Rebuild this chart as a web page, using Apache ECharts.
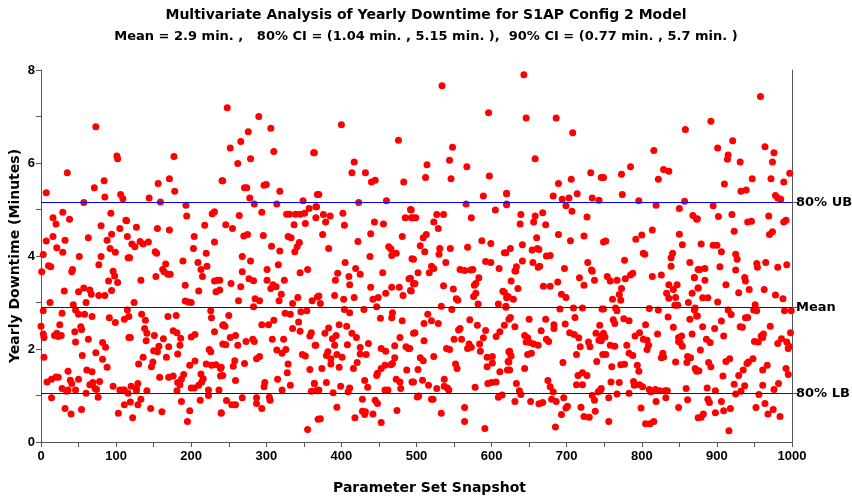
<!DOCTYPE html>
<html>
<head>
<meta charset="utf-8">
<script src="https://cdn.jsdelivr.net/npm/echarts@6/dist/echarts.min.js"></script>
<style>html,body{margin:0;padding:0;background:#fff}#c{width:852px;height:502px}</style>
</head>
<body>
<div id="c"></div>
<script>
const titleText = 'Multivariate Analysis of Yearly Downtime for S1AP Config 2 Model';
const subtitleText = 'Mean = 2.9 min. ,   80% CI = (1.04 min. , 5.15 min. ),  90% CI = (0.77 min. , 5.7 min. )';
const xAxisName = 'Parameter Set Snapshot';
const yAxisName = 'Yearly Downtime (Minutes)';
const refValues = [5.15, 2.9, 1.04];
const refLabels = ['80% UB', 'Mean', '80% LB'];

const seg1 = [[73,6.78],[35,5.79],[7,5.36],[101,6.15],[102,6.09],[84,5.62],[71,5.47],[85,5.27],[57,5.15],[106,5.32],[109,5.23],[29,4.94],[16,4.82],[20,4.69],[38,4.79],[93,4.92],[80,4.65],[105,4.59],[113,4.77],[7,4.32],[16,4.42],[32,4.34],[63,4.39],[88,4.34],[94,4.47],[21,4.18],[29,4.08],[92,4.16],[99,4.08],[80,3.99],[116,3.96],[3,4.03],[51,3.99],[10,3.79],[13,3.77],[1,3.66],[42,3.71],[41,3.66],[77,3.81],[96,3.67],[98,3.57],[90,3.46],[102,3.43],[31,3.25],[50,3.23],[57,3.31],[65,3.27],[67,3.18],[77,3.15],[85,3.15],[94,3.26],[12,3.0],[60,3.0],[43,2.95],[3,2.82],[46,2.84],[50,2.75],[58,2.75],[68,2.70],[28,2.77],[91,2.67],[99,2.57],[111,2.64],[0,2.49],[25,2.52],[53,2.48],[54,2.42],[3,2.32],[4,2.25],[18,2.29],[23,2.27],[27,2.29],[21,2.34],[45,2.37],[46,2.15],[63,2.21],[82,2.14],[86,2.04],[117,2.25],[4,1.82],[55,1.86],[73,1.92],[82,1.78],[88,1.61],[8,1.29],[14,1.35],[20,1.4],[23,1.39],[36,1.52],[61,1.55],[68,1.51],[39,1.33],[41,1.26],[50,1.35],[65,1.23],[69,1.28],[72,1.15],[78,1.3],[96,1.2],[28,1.15],[34,1.09],[36,1.12],[46,1.12],[60,1.05],[74,1.13],[76,0.96],[105,1.12],[109,1.12],[14,0.95],[32,0.72],[40,0.6],[54,0.7],[103,0.62],[111,0.8]];
const seg2 = [[177,6.14],[171,5.66],[156,5.56],[178,5.39],[241,5.62],[144,5.25],[159,5.16],[193,5.09],[194,4.86],[228,4.91],[231,4.95],[218,4.66],[114,4.76],[127,4.62],[155,4.59],[171,4.56],[115,4.42],[121,4.26],[125,4.2],[132,4.31],[136,4.26],[143,4.3],[204,4.42],[231,4.3],[118,3.96],[152,4.09],[154,4.06],[203,4.16],[220,4.06],[189,3.89],[209,3.86],[221,3.78],[213,3.71],[166,3.83],[162,3.71],[164,3.66],[169,3.61],[172,3.61],[153,3.56],[215,3.56],[133,3.48],[231,3.46],[235,3.48],[192,3.37],[233,3.23],[210,3.25],[124,3.0],[192,3.03],[196,3.01],[200,3.0],[115,2.84],[117,2.7],[226,2.82],[227,2.67],[134,2.75],[139,2.62],[169,2.7],[180,2.72],[242,2.51],[138,2.44],[141,2.34],[119,2.25],[140,2.18],[151,2.29],[163,2.22],[176,2.39],[181,2.35],[186,2.23],[185,2.08],[200,2.26],[205,2.31],[231,2.37],[242,2.11],[157,2.06],[170,2.05],[150,1.96],[155,1.94],[182,1.89],[224,1.99],[226,1.94],[130,1.68],[136,1.82],[149,1.72],[147,1.62],[167,1.82],[198,1.65],[205,1.74],[220,1.68],[227,1.65],[233,1.66],[239,1.58],[239,1.42],[158,1.39],[170,1.39],[176,1.42],[190,1.45],[187,1.35],[182,1.28],[185,1.23],[213,1.46],[216,1.36],[214,1.29],[210,1.22],[204,1.16],[200,1.16],[120,1.2],[127,1.15],[129,1.26],[127,1.1],[141,1.1],[111,1.12],[116,1.05],[181,1.1],[223,1.12],[223,1.0],[237,1.12],[119,0.86],[133,0.92],[129,0.8],[146,0.72],[161,0.65],[187,0.87],[198,0.67],[195,0.44],[212,0.9],[122,0.52],[240,0.63]];
const seg3 = [[248,7.19],[290,7.0],[306,6.75],[276,6.67],[266,6.46],[252,6.32],[310,6.25],[363,6.22],[279,6.09],[262,5.99],[242,5.62],[271,5.47],[274,5.47],[297,5.52],[300,5.54],[318,5.39],[278,5.25],[284,5.12],[314,5.12],[349,5.19],[368,5.32],[294,4.94],[264,4.87],[327,4.9],[331,4.9],[339,4.9],[345,4.9],[351,4.92],[357,5.02],[367,5.06],[352,4.7],[337,4.67],[246,4.67],[255,4.59],[270,4.43],[275,4.46],[296,4.44],[329,4.42],[333,4.39],[344,4.29],[341,4.2],[338,4.09],[307,4.21],[318,4.11],[268,3.99],[279,3.89],[316,3.81],[301,3.71],[268,3.66],[345,3.64],[355,3.71],[277,3.51],[283,3.47],[301,3.48],[309,3.38],[313,3.34],[306,3.3],[324,3.48],[238,3.48],[253,3.41],[266,3.34],[320,3.18],[263,3.04],[285,3.08],[291,3.04],[283,2.91],[317,3.04],[335,2.98],[342,3.11],[361,3.04],[368,3.12],[238,3.27],[325,2.77],[332,2.75],[346,2.8],[354,2.82],[250,2.72],[243,2.52],[245,2.49],[294,2.52],[303,2.52],[310,2.62],[343,2.58],[335,2.44],[345,2.38],[358,2.28],[360,2.35],[252,2.25],[259,2.29],[246,2.09],[262,2.08],[273,2.16],[282,2.21],[284,2.16],[308,2.21],[323,2.21],[365,2.08],[314,1.98],[321,1.91],[326,1.99],[348,1.88],[352,1.85],[287,1.79],[291,1.84],[258,1.75],[256,1.63],[271,1.69],[329,1.68],[328,1.49],[358,1.56],[240,1.61],[242,1.43],[259,1.32],[315,1.35],[298,1.28],[297,1.19],[332,1.22],[364,1.26],[321,1.12],[360,1.09],[367,1.11],[247,0.89],[254,0.8],[259,0.8],[268,0.95],[287,0.95],[287,0.83],[304,0.96],[305,0.9],[294,0.72],[240,0.62],[355,0.27],[369,0.49]];
const seg4 = [[400,6.82],[476,6.49],[417,6.02],[414,5.79],[432,5.79],[440,5.59],[445,5.63],[483,5.59],[364,6.22],[370,5.32],[423,5.15],[460,5.19],[492,5.0],[485,4.82],[493,4.82],[366,5.06],[366,4.82],[376,4.89],[385,4.86],[402,4.92],[379,4.73],[404,4.66],[444,4.73],[456,4.69],[375,4.46],[439,4.48],[481,4.42],[422,4.31],[383,4.16],[463,4.2],[466,4.15],[473,4.06],[467,4.01],[438,3.99],[494,3.94],[405,3.86],[419,3.73],[425,3.61],[395,3.63],[392,3.48],[410,3.56],[411,3.38],[455,3.64],[439,3.33],[490,3.51],[370,3.14],[372,2.98],[391,3.15],[403,3.07],[417,3.11],[442,3.07],[449,3.11],[459,3.2],[467,3.33],[477,3.33],[482,3.15],[492,3.26],[496,3.4],[404,2.85],[411,2.78],[430,2.85],[447,2.91],[468,2.78],[467,2.67],[481,2.61],[452,2.66],[397,2.52],[407,2.49],[383,2.45],[378,2.34],[393,2.29],[388,2.22],[391,2.08],[414,2.34],[420,2.25],[366,2.08],[408,2.09],[436,2.12],[425,2.03],[478,2.25],[486,2.05],[489,2.01],[496,2.34],[471,2.07],[453,2.01],[459,1.95],[382,1.94],[380,1.86],[386,1.79],[394,1.88],[401,1.82],[425,1.89],[433,1.88],[471,1.81],[386,1.68],[397,1.61],[421,1.71],[416,1.58],[453,1.58],[458,1.65],[466,1.66],[468,1.69],[448,1.48],[447,1.43],[374,1.58],[487,1.55],[364,1.26],[370,1.12],[367,1.1],[380,1.28],[399,1.2],[411,1.16],[409,1.08],[431,1.32],[435,1.18],[473,1.35],[478,1.29],[479,1.15],[458,1.12],[462,1.12],[494,1.29],[389,1.06],[428,0.92],[445,0.9],[448,0.83],[394,0.75],[428,0.66],[431,0.59],[432,0.65],[442,0.6],[418,0.52],[372,0.5],[453,0.42],[474,0.68]];
const seg5 = [[534,7.66],[596,7.08],[548,6.34],[544,6.06],[514,5.96],[567,5.92],[512,5.69],[546,5.66],[597,5.72],[589,5.29],[620,5.34],[620,5.1],[566,5.12],[605,4.99],[493,4.99],[496,4.82],[499,4.82],[527,4.89],[536,4.89],[523,4.73],[529,4.59],[573,4.82],[509,4.39],[513,4.46],[505,4.22],[511,4.09],[531,4.16],[530,4.04],[545,4.16],[587,4.33],[599,4.27],[568,4.19],[617,4.07],[496,3.93],[539,3.86],[592,3.88],[599,3.86],[520,3.78],[523,3.73],[517,3.64],[502,3.64],[610,3.73],[558,3.71],[564,3.69],[572,3.7],[575,3.71],[583,3.53],[579,3.41],[577,3.37],[492,3.52],[498,3.41],[493,3.25],[536,3.36],[549,3.29],[615,3.24],[579,3.2],[576,3.13],[582,2.97],[553,3.08],[555,3.05],[620,3.1],[533,2.92],[547,2.85],[609,2.97],[619,2.92],[515,2.75],[520,2.61],[529,2.55],[510,2.55],[571,2.63],[581,2.51],[623,2.64],[498,2.35],[558,2.44],[556,2.41],[592,2.4],[611,2.37],[606,2.27],[510,2.18],[550,2.21],[560,2.21],[570,2.11],[573,2.04],[568,2.01],[584,2.11],[585,1.95],[589,2.24],[540,2.01],[544,1.99],[623,1.94],[491,2.01],[505,1.81],[509,1.75],[523,1.84],[594,1.82],[601,1.84],[594,1.62],[601,1.7],[622,1.73],[621,1.55],[552,1.68],[554,1.58],[502,1.56],[611,1.51],[496,1.29],[508,1.33],[516,1.22],[527,1.15],[537,1.35],[537,1.2],[541,1.16],[543,1.12],[578,1.18],[595,1.26],[600,1.28],[606,1.29],[501,0.97],[503,0.99],[520,0.92],[522,0.92],[609,0.96],[614,1.01],[564,0.74],[533,0.62],[564,0.44],[591,0.29]];
const seg6 = [[643,7.9],[646,6.97],[686,6.97],[708,6.65],[658,6.09],[732,5.79],[746,5.69],[689,5.56],[706,5.65],[620,5.35],[620,5.12],[682,5.29],[694,5.22],[703,5.25],[714,5.34],[734,5.25],[743,5.2],[699,5.08],[707,4.96],[639,4.89],[638,4.69],[658,4.86],[656,4.73],[668,4.93],[672,4.67],[727,4.84],[689,4.46],[723,4.43],[660,4.39],[705,4.33],[749,4.3],[641,4.24],[625,4.16],[619,4.07],[654,4.13],[661,4.16],[663,4.14],[673,4.0],[678,4.01],[641,3.89],[633,3.77],[632,3.68],[631,3.68],[655,3.86],[662,3.76],[664,3.78],[697,3.73],[728,3.86],[734,3.67],[737,3.48],[733,3.7],[717,3.53],[626,3.46],[688,3.44],[669,3.35],[678,3.35],[635,3.3],[723,3.37],[617,3.22],[622,3.13],[629,3.07],[693,3.18],[699,3.11],[619,2.9],[691,2.86],[709,2.88],[721,2.88],[747,2.86],[625,2.68],[650,2.64],[672,2.64],[711,2.68],[617,2.51],[631,2.48],[683,2.52],[683,2.44],[698,2.54],[666,2.39],[704,2.35],[710,2.31],[716,2.24],[739,2.34],[746,2.28],[743,2.19],[644,2.29],[648,2.24],[646,2.15],[651,2.14],[656,2.11],[662,2.08],[673,2.21],[676,2.16],[729,2.15],[731,2.05],[718,2.05],[748,1.88],[624,1.95],[626,1.85],[623,1.72],[624,1.55],[648,1.88],[653,1.91],[713,1.88],[695,1.71],[740,1.73],[644,1.58],[721,1.49],[715,1.43],[727,1.43],[633,1.26],[637,1.1],[639,1.02],[675,1.32],[678,1.19],[682,1.08],[713,1.23],[721,1.23],[734,1.0],[737,0.9],[742,1.08],[746,1.15],[631,0.87],[652,0.87],[663,0.82],[668,0.85],[680,0.92],[686,0.87],[696,0.95],[701,0.77],[699,0.73],[693,0.59],[719,0.75],[723,0.55],[730,0.53],[738,0.66],[685,0.32]];
const seg7 = [[858,6.72],[816,6.27],[785,5.92],[829,5.86],[836,5.82],[822,5.65],[749,5.69],[773,5.76],[774,5.32],[796,5.19],[819,5.09],[850,5.02],[857,5.18],[868,4.87],[873,4.79],[814,4.56],[792,4.36],[800,4.45],[850,4.47],[854,4.24],[752,4.32],[802,4.06],[804,4.04],[841,4.06],[839,3.96],[839,3.78],[777,3.91],[864,3.86],[875,3.71],[788,3.63],[785,3.59],[814,3.56],[826,3.59],[754,3.56],[758,3.46],[767,3.48],[778,3.51],[870,3.54],[836,3.38],[842,3.28],[847,3.38],[875,3.31],[773,3.3],[770,3.17],[772,3.05],[833,3.2],[836,3.09],[845,3.11],[844,2.94],[848,2.94],[761,3.07],[867,3.2],[862,3.0],[749,2.86],[765,2.88],[767,2.82],[810,2.87],[822,2.84],[870,2.84],[873,2.71],[762,2.63],[764,2.55],[776,2.65],[783,2.61],[835,2.69],[805,2.52],[842,2.47],[864,2.64],[744,2.51],[749,2.34],[746,2.18],[751,2.26],[791,2.28],[797,2.35],[802,2.21],[807,2.19],[809,2.08],[807,1.99],[821,2.32],[849,2.25],[851,2.14],[854,2.06],[849,2.16],[853,2.28],[867,2.32],[758,2.08],[764,2.06],[780,2.08],[752,1.88],[783,1.91],[788,1.86],[828,1.91],[826,1.81],[829,1.83],[861,1.84],[865,1.81],[860,1.71],[760,1.62],[772,1.66],[777,1.67],[794,1.65],[796,1.52],[845,1.72],[871,1.58],[873,1.52],[759,1.29],[770,1.28],[789,1.3],[790,1.22],[797,1.23],[801,1.19],[783,1.05],[810,1.13],[812,1.08],[818,1.13],[824,1.1],[831,1.1],[834,1.1],[859,1.15],[745,1.12],[756,0.95],[767,1.03],[799,0.73],[819,0.87],[832,0.95],[861,0.91],[849,0.74],[756,0.44],[805,0.39],[811,0.39],[816,0.44],[875,0.52]];
const seg8 = [[958,7.43],[892,6.9],[921,6.48],[901,6.32],[964,6.35],[976,6.22],[915,6.17],[914,6.08],[931,6.02],[974,6.02],[997,5.78],[947,5.66],[972,5.66],[989,5.59],[910,5.55],[932,5.39],[939,5.42],[978,5.3],[981,5.25],[985,5.22],[895,5.08],[874,4.8],[902,4.85],[920,4.89],[941,4.73],[946,4.75],[969,4.86],[989,4.73],[992,4.77],[923,4.53],[970,4.46],[974,4.52],[879,4.26],[895,4.23],[900,4.23],[906,4.09],[925,4.04],[927,3.93],[953,3.84],[954,3.76],[965,3.86],[981,3.76],[993,3.81],[877,3.71],[884,3.73],[904,3.77],[925,3.7],[870,3.53],[884,3.48],[937,3.54],[938,3.46],[875,3.31],[912,3.38],[929,3.21],[943,3.28],[963,3.28],[881,3.1],[888,3.1],[901,3.01],[978,3.16],[988,3.08],[951,2.95],[949,2.84],[953,2.82],[941,2.68],[938,2.67],[990,2.82],[999,2.82],[871,2.88],[874,2.71],[915,2.84],[919,2.74],[906,2.6],[897,2.44],[881,2.48],[931,2.48],[934,2.47],[971,2.49],[962,2.32],[959,2.28],[961,2.25],[998,2.35],[886,2.21],[891,2.14],[909,2.28],[950,2.16],[955,2.15],[986,2.22],[981,2.12],[993,2.15],[996,2.06],[995,2.01],[878,1.98],[948,1.79],[942,1.72],[940,1.69],[912,1.73],[917,1.79],[889,1.71],[892,1.62],[876,1.53],[967,1.65],[961,1.55],[935,1.55],[929,1.43],[992,1.58],[995,1.45],[908,1.42],[982,1.26],[976,1.13],[961,1.22],[923,1.24],[937,1.21],[932,1.09],[887,1.16],[898,1.1],[925,1.03],[956,1.02],[888,0.92],[890,0.85],[906,0.87],[909,0.67],[918,0.72],[898,0.63],[952,0.74],[964,0.83],[968,0.6],[975,0.7],[984,0.55],[879,0.53],[882,0.6],[916,0.24]];

const points = [].concat(seg1, seg2, seg3, seg4, seg5, seg6, seg7, seg8);

const FONT = '"Liberation Sans", Arial, sans-serif';
const WIDE = '"DejaVu Sans", "Liberation Sans", sans-serif';
const chart = echarts.init(document.getElementById('c'), null, {renderer: 'canvas'});
const axisCol = '#555555';

chart.setOption({
  animation: false,
  backgroundColor: '#ffffff',
  title: {
    text: titleText,
    subtext: subtitleText,
    left: 'center',
    top: 3,
    itemGap: 8,
    textStyle: {fontFamily: WIDE, fontWeight: 'bold', fontSize: 14, color: '#000'},
    subtextStyle: {fontFamily: WIDE, fontWeight: 'bold', fontSize: 13, color: '#000'}
  },
  grid: {left: 41, right: 60, top: 70, bottom: 60, containLabel: false, outerBoundsMode: 'none'},
  xAxis: {
    type: 'value', min: 0, max: 1000, interval: 50,
    name: xAxisName, nameLocation: 'middle', nameGap: 39, nameMoveOverlap: false,
    nameTextStyle: {fontFamily: WIDE, fontWeight: 'bold', fontSize: 14, color: '#000', padding: [0, 0, 0, 26]},
    axisLine: {show: true, lineStyle: {color: axisCol, width: 1}},
    axisTick: {show: true, inside: false, length: 5, lineStyle: {color: axisCol}},
    axisLabel: {fontFamily: FONT, fontWeight: 'bold', fontSize: 13, color: '#000', margin: 8,
      formatter: v => (v % 100 === 0 ? String(v) : '')},
    splitLine: {show: false}
  },
  yAxis: [{
    type: 'value', min: 0, max: 8, interval: 1, position: 'left',
    name: yAxisName, nameLocation: 'middle', nameGap: 19, nameRotate: 90, nameMoveOverlap: false,
    nameTextStyle: {fontFamily: WIDE, fontWeight: 'bold', fontSize: 14, color: '#000'},
    axisLine: {show: true, lineStyle: {color: axisCol, width: 1}},
    axisTick: {show: true, inside: false, length: 5, lineStyle: {color: axisCol}},
    axisLabel: {fontFamily: FONT, fontWeight: 'bold', fontSize: 13, color: '#000', margin: 6,
      formatter: v => (v % 2 === 0 ? String(v) : '')},
    splitLine: {show: false}
  }, {
    type: 'value', min: 0, max: 8, position: 'right',
    axisLine: {show: true, onZero: false, lineStyle: {color: axisCol, width: 1}},
    axisTick: {show: true, inside: false, length: 5, customValues: refValues, lineStyle: {color: axisCol}},
    axisLabel: {fontFamily: WIDE, fontWeight: 'bold', fontSize: 13, color: '#000', margin: 4,
      customValues: refValues,
      formatter: v => { const i = refValues.findIndex(r => Math.abs(r - v) < 1e-6); return i >= 0 ? refLabels[i] : ''; }},
    splitLine: {show: false}
  }],
  series: [{
    type: 'scatter',
    xAxisIndex: 0, yAxisIndex: 0,
    data: points,
    symbol: 'circle',
    symbolSize: 7,
    itemStyle: {color: '#ff0000', opacity: 1},
    emphasis: {disabled: true},
    clip: false,
    markLine: {
      silent: true,
      symbol: ['none', 'none'],
      label: {show: false},
      lineStyle: {color: '#0000ff', width: 1, type: 'solid'},
      data: refValues.map(v => ({yAxis: v}))
    },
    z: 2
  }]
});
</script>
</body>
</html>
